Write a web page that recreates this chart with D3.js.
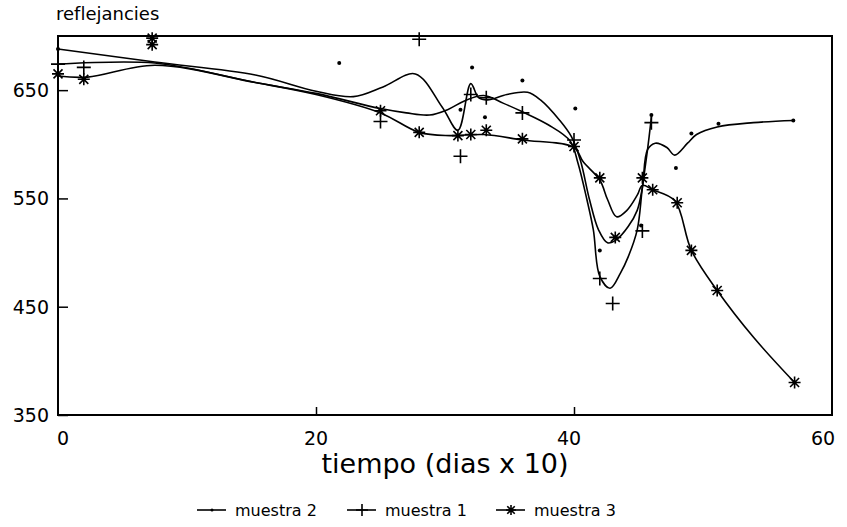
<!DOCTYPE html>
<html lang=es>
<head>
    <meta charset='utf-8'>
    <script src="https://d3js.org/d3.v7.min.js"></script>
    <style>
        body { margin: 0; background: #fff; }
        text { font-family: "DejaVu Sans", "Liberation Sans", sans-serif; fill: #000; }
    </style>
</head>
<body>
<div id="chart"></div>
<script>
    // fitted curves (x = tiempo, y = reflejancia)
    var m2CurveX = [0, 7.5, 15.3, 20, 22.9, 25.2, 27.7, 29.8, 31, 32, 32.6, 33.3, 34.8, 36.4, 37.4, 38.9, 39.8, 40.5, 41.2, 41.9, 42.6, 43.3, 44.2, 44.9, 45.3, 45.7, 46.3, 47.2, 47.8, 48.8, 49.5, 51.1, 53.9, 57];
    var m2CurveY = [688, 676, 664, 649, 644, 653, 665, 634, 613, 656, 643, 641, 646, 648, 641, 622, 607, 585, 549, 521, 509, 512, 524, 539, 560, 595, 601, 597, 590, 601, 609, 616, 620, 622];

    var m1CurveX = [0, 7.5, 15.3, 20, 25, 27, 28.8, 30.2, 31.5, 33, 34.5, 36, 38, 39.7, 40.3, 41, 41.5, 42, 42.8, 43.6, 44.2, 44.9, 45.3, 45.7, 46];
    var m1CurveY = [674, 675, 657, 647, 633, 629, 627, 632, 640, 645, 638, 630, 618, 603, 583, 549, 521, 478, 467, 481, 496, 521, 560, 595, 625];

    var m3CurveX = [0, 2.3, 7.5, 15.3, 20, 25, 28, 30.4, 33, 36, 40, 40.7, 42, 42.6, 43.3, 44.1, 44.9, 45.3, 46.1, 47.8, 49.1, 51.1, 53.9, 57.1];
    var m3CurveY = [663, 662, 673, 657, 646, 629, 611, 608, 609, 604, 597, 584, 567, 549, 533, 539, 553, 562, 558, 548, 502, 465, 422, 380];

    // measured points
    var m2PtsX = [0, 21.8, 31.2, 32.1, 33.1, 36, 40.1, 42, 45.2, 46, 47.9, 49.1, 51.2, 57];
    var m2PtsY = [688, 675, 632, 671, 625, 659, 633, 502, 525, 627, 578, 610, 619, 622];

    var m1PtsX = [0, 2, 25, 28, 31.2, 32, 33.2, 36, 40, 42, 43, 45.3, 46];
    var m1PtsY = [674, 671, 621, 697, 589, 646, 643, 629, 604, 476, 453, 520, 620];

    var m3PtsX = [0, 2, 7.3, 7.3, 25, 28, 31, 32, 33.2, 36, 40, 42, 43.2, 45.3, 46.1, 48, 49.1, 51.1, 57.1];
    var m3PtsY = [665, 660, 698, 692, 631, 611, 608, 609, 613, 605, 598, 569, 514, 569, 558, 546, 502, 465, 380];

    var xTicks = [0, 20, 40, 60];
    var yTicks = [350, 450, 550, 650];
    var seriesNames = ["muestra 2", "muestra 1", "muestra 3"];

    var width = 847, height = 527;
    var svg = d3.select("#chart").append("svg")
        .attr("width", width)
        .attr("height", height);

    var x = d3.scaleLinear().domain([0, 60]).range([58, 832]);
    var y = d3.scaleLinear().domain([350, 700]).range([415, 36]);

    // frame
    svg.append("rect")
        .attr("x", x(0)).attr("y", y(700))
        .attr("width", x(60) - x(0)).attr("height", y(350) - y(700))
        .attr("fill", "none").attr("stroke", "#000").attr("stroke-width", 2);

    // y axis: inward ticks, labels on the left
    var yAxis = svg.append("g")
        .attr("transform", "translate(" + x(0) + ",0)")
        .call(d3.axisRight(y).tickValues(yTicks).tickSize(10).tickFormat(""));
    yAxis.select(".domain").remove();
    yAxis.selectAll("line").attr("stroke", "#000").attr("stroke-width", 1.5);

    svg.selectAll(".ylab").data(yTicks).enter().append("text")
        .attr("class", "ylab")
        .attr("x", 49).attr("y", function(d) { return y(d) + 7; })
        .attr("text-anchor", "end")
        .style("font-size", "19px")
        .text(function(d) { return d; });

    // x axis: ticks pointing up
    var xAxis = svg.append("g")
        .attr("transform", "translate(0," + y(350) + ")")
        .call(d3.axisTop(x).tickValues([20, 40]).tickSize(8).tickFormat(""));
    xAxis.select(".domain").remove();
    xAxis.selectAll("line").attr("stroke", "#000").attr("stroke-width", 1.5);

    svg.selectAll(".xlab").data(xTicks).enter().append("text")
        .attr("class", "xlab")
        .attr("x", function(d) { return x(d) + (d == 0 ? 5 : 0) + (d == 60 ? -9 : 0) + (d == 40 ? -5 : 0); })
        .attr("y", 445)
        .attr("text-anchor", "middle")
        .style("font-size", "19px")
        .text(function(d) { return d; });

    svg.append("text")
        .attr("x", 56).attr("y", 20)
        .style("font-size", "18px")
        .text("reflejancies");

    svg.append("text")
        .attr("x", 445).attr("y", 473)
        .attr("text-anchor", "middle")
        .style("font-size", "27px")
        .text("tiempo (dias x 10)");

    // curves
    var line = d3.line()
        .x(function(d) { return x(d[0]); })
        .y(function(d) { return y(d[1]); })
        .curve(d3.curveCatmullRom.alpha(0.5));

    function pairs(xs, ys) { return xs.map(function(v, i) { return [v, ys[i]]; }); }

    [[m2CurveX, m2CurveY], [m1CurveX, m1CurveY], [m3CurveX, m3CurveY]].forEach(function(c) {
        svg.append("path")
            .datum(pairs(c[0], c[1]))
            .attr("d", line)
            .attr("fill", "none")
            .attr("stroke", "#000")
            .attr("stroke-width", 1.6);
    });

    // marker shapes
    function plusPath(s) {
        return "M" + (-s) + ",0H" + s + "M0," + (-s) + "V" + s;
    }
    function starPath(s) {
        var d = s * 0.75;
        return "M" + (-s) + ",0H" + s + "M0," + (-s) + "V" + s +
            "M" + (-d) + "," + (-d) + "L" + d + "," + d +
            "M" + (-d) + "," + d + "L" + d + "," + (-d);
    }

    svg.selectAll(".dot").data(pairs(m2PtsX, m2PtsY)).enter().append("circle")
        .attr("class", "dot")
        .attr("cx", function(d) { return x(d[0]); })
        .attr("cy", function(d) { return y(d[1]); })
        .attr("r", 2);

    svg.selectAll(".plus").data(pairs(m1PtsX, m1PtsY)).enter().append("path")
        .attr("class", "plus")
        .attr("transform", function(d) { return "translate(" + x(d[0]) + "," + y(d[1]) + ")"; })
        .attr("d", plusPath(7))
        .attr("stroke", "#000").attr("stroke-width", 1.6);

    svg.selectAll(".star").data(pairs(m3PtsX, m3PtsY)).enter().append("path")
        .attr("class", "star")
        .attr("transform", function(d) { return "translate(" + x(d[0]) + "," + y(d[1]) + ")"; })
        .attr("d", starPath(6))
        .attr("stroke", "#000").attr("stroke-width", 1.6);

    // legend
    var legX = [197, 347, 496];
    var legY = 510;
    seriesNames.forEach(function(name, i) {
        var g = svg.append("g").attr("transform", "translate(" + legX[i] + "," + legY + ")");
        g.append("line").attr("x1", 0).attr("x2", 29).attr("y1", 0).attr("y2", 0)
            .attr("stroke", "#000").attr("stroke-width", 1.6);
        if (i == 0) g.append("circle").attr("cx", 15).attr("cy", 0).attr("r", 1.5);
        if (i == 1) g.append("path").attr("transform", "translate(15,0)").attr("d", plusPath(6))
            .attr("stroke", "#000").attr("stroke-width", 1.6);
        if (i == 2) g.append("path").attr("transform", "translate(15,0)").attr("d", starPath(5))
            .attr("stroke", "#000").attr("stroke-width", 1.6);
        g.append("text").attr("x", 38).attr("y", 6)
            .style("font-size", "16px")
            .text(name);
    });
</script>
</body>
</html>
